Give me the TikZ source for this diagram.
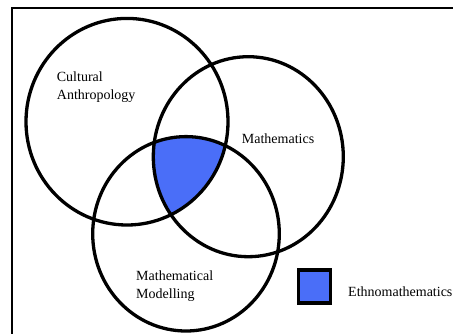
\documentclass[tikz,border=0pt]{standalone}
\usepackage{fontspec}
\setmainfont{Liberation Serif}
\definecolor{ink}{HTML}{000000}
\definecolor{ethno}{HTML}{4A6EF8}

\begin{document}
\begin{tikzpicture}[x=1pt,y=-1pt,font=\fontsize{14}{17.6}\selectfont,
  ring/.style={draw=ink,line width=3.3pt},
  lbl/.style={inner sep=0pt,anchor=base west,align=left}]
\useasboundingbox (0,0) rectangle (453,333);
% outer frame, runs off the page right and below
\draw[ink,line width=2.2pt] (11.7,8.3) rectangle (480,360);
% set centres
\coordinate (anth) at (127,121.7);
\coordinate (math) at (248.3,156.7);
\coordinate (mode) at (186,233.8);
% common part of all three sets
\begin{scope}
  \clip (anth) ellipse [x radius=101pt,y radius=103.3pt];
  \clip (math) ellipse [x radius=95pt,y radius=100pt];
  \fill[ethno] (mode) ellipse [x radius=93.3pt,y radius=97.2pt];
\end{scope}
% the three rings
\draw[ring] (anth) ellipse [x radius=101pt,y radius=103.3pt];
\draw[ring] (math) ellipse [x radius=95pt,y radius=100pt];
\draw[ring] (mode) ellipse [x radius=93.3pt,y radius=97.2pt];
% labels (base anchor sits on the last line)
\node[lbl] (anthlbl) at (56.7,99.3) {Cultural\\Anthropology};
\node[lbl] (mathlbl) at (241.7,143.3) {Mathematics};
\node[lbl] (modelbl) at (136,298.3) {Mathematical\\Modelling};
% legend
\node[draw=ink,fill=ethno,line width=3.5pt,minimum width=32pt,minimum height=33pt,inner sep=0pt] (key) at (314.7,286.7) {};
\node[lbl] (keylbl) at (348,296.7) {Ethnomathematics};
\end{tikzpicture}
\end{document}
